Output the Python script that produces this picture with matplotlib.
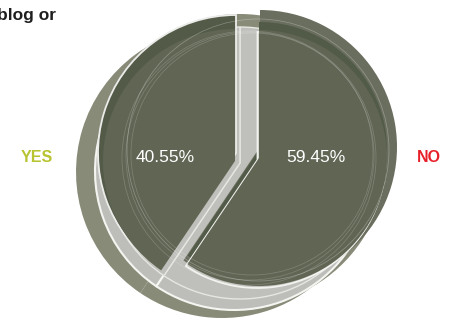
import matplotlib
matplotlib.use("Agg")
import matplotlib.pyplot as plt

plt.rcParams['font.family'] = ['Liberation Sans', 'DejaVu Sans']

labels = ['NO', 'YES']
values = [59.45, 40.55]
pct_labels = ['59.45%', '40.55%']
label_colors = ['#e8202a', '#b7c42f']
title = 'blog or'

W, H = 455, 320
fig = plt.figure(figsize=(W / 100, H / 100), dpi=100)
ax = fig.add_axes([0, 0, 1, 1])


def Y(y):
    return H - y


def wedge(center, r, idx, color, ec='none', lw=0):
    wedges, _ = ax.pie(values, center=(center[0], Y(center[1])), radius=r, startangle=90,
                       counterclock=False, colors=[color, color],
                       wedgeprops=dict(edgecolor=ec, linewidth=lw))
    for i, w in enumerate(wedges):
        if idx is not None and i != idx:
            w.set_visible(False)


# shadow layers (whole pie)
wedge((222, 172), 146, None, '#898b79')
wedge((240, 160), 146, None, '#898b79')
wedge((234, 171), 139, None, '#bdbeb9', ec='#f4f4f1', lw=1.5)
wedge((240, 163), 136, None, '#bfc0bb', ec='#e6e6e2', lw=1.0)

# NO slice (index 0)
wedge((260, 147), 137, 0, '#6a6e5e')
wedge((259, 150), 128, 0, '#525a48')
wedge((257.5, 160), 128, 0, '#c4c5c1', ec='#f2f2ef', lw=1.3)
wedge((259, 158), 128, 0, '#616654')

# YES slice (index 1)
wedge((236, 153), 138, 1, '#535b48', ec='#ececea', lw=1.3)
wedge((235, 161), 132, 1, '#616654')

# faint inner rings
for (cx, cy, r, a) in [(250, 156, 124, 0.2), (252, 154, 121, 0.2), (249, 158, 127, 0.2),
                       (258, 150, 131, 0.3)]:
    ax.add_patch(plt.Circle((cx, Y(cy)), r, fill=False, ec='white', lw=0.5, alpha=a))

# percentage labels
ax.text(316, Y(158), pct_labels[0], color='white', fontsize=12.5, ha='center', va='center')
ax.text(165, Y(158), pct_labels[1], color='white', fontsize=12.5, ha='center', va='center')

# category labels
ax.text(429, Y(158), labels[0], color=label_colors[0], fontsize=11.5, fontweight='bold',
        ha='center', va='center')
ax.text(37, Y(158), labels[1], color=label_colors[1], fontsize=11.5, fontweight='bold',
        ha='center', va='center')

ax.text(-3, Y(20), title, color='#1e1e1e', fontsize=12.5, fontweight='bold',
        ha='left', va='baseline')

ax.set_xlim(0, W)
ax.set_ylim(0, H)
ax.set_aspect('equal')
ax.axis('off')

fig.savefig('out.png', dpi=100)
